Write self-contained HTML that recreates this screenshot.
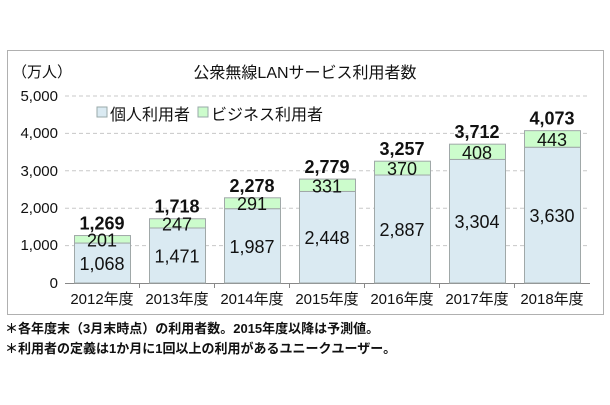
<!DOCTYPE html>
<html><head><meta charset="utf-8"><style>
body{margin:0;background:#fff;width:610px;height:400px;overflow:hidden}
svg text{font-family:"Liberation Sans","Noto Sans CJK JP",sans-serif;fill:#111}
</style></head><body>
<svg width="610" height="400" viewBox="0 0 610 400">
<rect x="7.5" y="50.5" width="596" height="264" fill="#fff" stroke="#b0b0b0"/>
<text x="12" y="77" font-size="15">（万人）</text>
<text x="305" y="78" font-size="16" text-anchor="middle">公衆無線LANサービス利用者数</text>
<g stroke="#c8c8c8" stroke-dasharray="4,3">
<line x1="65" x2="590" y1="96" y2="96"/><line x1="65" x2="590" y1="133.4" y2="133.4"/>
<line x1="65" x2="590" y1="170.8" y2="170.8"/><line x1="65" x2="590" y1="208.2" y2="208.2"/>
<line x1="65" x2="590" y1="245.6" y2="245.6"/></g>
<g font-size="15" text-anchor="end">
<text x="58" y="101">5,000</text><text x="58" y="138">4,000</text><text x="58" y="176">3,000</text>
<text x="58" y="213">2,000</text><text x="58" y="250">1,000</text><text x="58" y="288">0</text></g>
<line x1="65" x2="590" y1="283.5" y2="283.5" stroke="#888"/>
<rect x="97" y="107" width="10" height="10" fill="#daeaf2" stroke="#9aa"/>
<text x="110" y="120" font-size="16">個人利用者</text>
<rect x="198" y="107" width="10" height="10" fill="#ccfccc" stroke="#9aa"/>
<text x="211" y="120" font-size="16">ビジネス利用者</text>
<g id="bars"></g>
</svg>
<script>
var d=[["2012",1068,201,1269],["2013",1471,247,1718],["2014",1987,291,2278],["2015",2448,331,2779],["2016",2887,370,3257],["2017",3304,408,3712],["2018",3630,443,4073]];
var g=document.getElementById("bars"),s="",k=0.0374,b=283;
function f(n){return n.toLocaleString("en-US")}
d.forEach(function(r,i){var x=74+i*75,cx=x+28,hp=r[1]*k,hb=r[2]*k,yp=b-hp,yb=yp-hb;
s+='<rect x="'+(x+.5)+'" y="'+yp+'" width="56" height="'+hp+'" fill="#daeaf2" stroke="#a0a8a8"/>';
s+='<rect x="'+(x+.5)+'" y="'+yb+'" width="56" height="'+hb+'" fill="#ccfccc" stroke="#a0a8a8"/>';
s+='<text x="'+cx+'" y="'+(yp+hp/2+7)+'" font-size="18" text-anchor="middle">'+f(r[1])+'</text>';
s+='<text x="'+cx+'" y="'+(yb+hb/2+7)+'" font-size="18" text-anchor="middle">'+r[2]+'</text>';
s+='<text x="'+cx+'" y="'+(yb-6)+'" font-size="18" font-weight="bold" text-anchor="middle">'+f(r[3])+'</text>';
s+='<text x="'+cx+'" y="304" font-size="15" text-anchor="middle">'+r[0]+'年度</text>';
if(i>0)s+='<line x1="'+(x-9.5)+'" x2="'+(x-9.5)+'" y1="283" y2="288" stroke="#888"/>';});
g.innerHTML=s;
</script>
<svg width="610" height="80" style="position:absolute;left:0;top:315px">
<text x="5" y="18" font-size="13" font-weight="bold">＊各年度末（3月末時点）の利用者数。2015年度以降は予測値。</text>
<text x="5" y="38" font-size="13" font-weight="bold">＊利用者の定義は1か月に1回以上の利用があるユニークユーザー。</text>
</svg>
</body></html>
